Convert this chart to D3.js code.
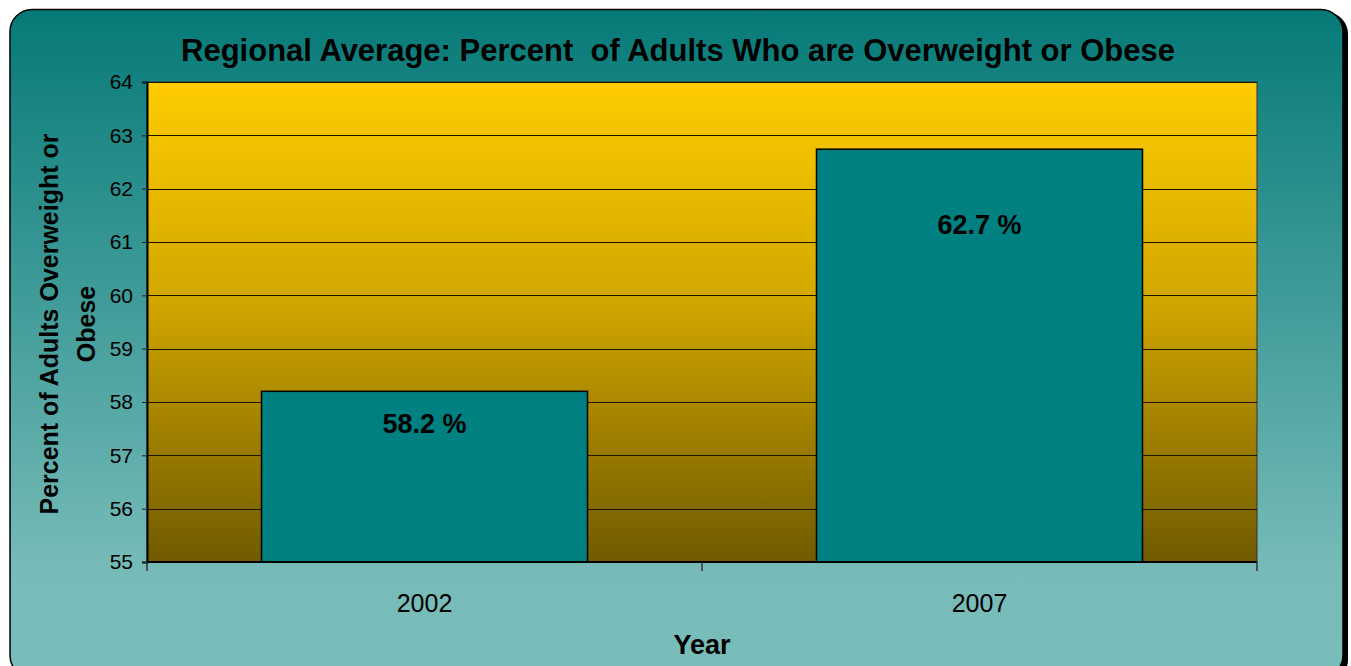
<!DOCTYPE html>
<html>
<head>
<meta charset="utf-8">
<script src="https://cdn.jsdelivr.net/npm/d3@7"></script>
<style>
  html, body { margin: 0; padding: 0; background: #fff; }
  text { font-family: "Liberation Sans", Arial, sans-serif; }
</style>
</head>
<body>
<div id="chart"></div>
<script>
const years = ["2002", "2007"];
const values = [58.2, 62.74];
const yTicks = [55, 56, 57, 58, 59, 60, 61, 62, 63, 64];

const width = 1351;
const height = 666;
const plotLeft = 147;
const plotRight = 1257;
const plotTop = 82;
const plotBottom = 562;
// label distance below each bar top, in px
const labelDy = [41.5, 84.5];

const svg = d3.select("#chart")
    .append("svg")
    .attr("width", width)
    .attr("height", height);

const defs = svg.append("defs");

const outerGrad = defs.append("linearGradient")
    .attr("id", "outerGrad")
    .attr("x1", 0).attr("y1", 0).attr("x2", 0).attr("y2", 1);
outerGrad.append("stop").attr("offset", 0).attr("stop-color", "#067a77");
outerGrad.append("stop").attr("offset", 0.85).attr("stop-color", "#78bcb9");
outerGrad.append("stop").attr("offset", 1).attr("stop-color", "#79bdba");

const plotGrad = defs.append("linearGradient")
    .attr("id", "plotGrad")
    .attr("x1", 0).attr("y1", 0).attr("x2", 0).attr("y2", 1);
plotGrad.append("stop").attr("offset", 0).attr("stop-color", "#ffcc00");
plotGrad.append("stop").attr("offset", 0.45).attr("stop-color", "#d2a700");
plotGrad.append("stop").attr("offset", 1).attr("stop-color", "#705a00");

// outer frame with shadow
svg.append("rect")
    .attr("x", 14).attr("y", 12)
    .attr("width", 1334).attr("height", 670)
    .attr("rx", 22)
    .attr("fill", "#000");

svg.append("rect")
    .attr("x", 10).attr("y", 9.5)
    .attr("width", 1333).attr("height", 668)
    .attr("rx", 22)
    .attr("fill", "url(#outerGrad)")
    .attr("stroke", "#000")
    .attr("stroke-width", 1.5);

const xScale = d3.scaleBand()
    .domain(years)
    .range([plotLeft, plotRight])
    .paddingInner(0.4126)
    .paddingOuter(0.2063);

const yScale = d3.scaleLinear()
    .domain([55, 64])
    .range([plotBottom, plotTop]);

// plot background
svg.append("rect")
    .attr("x", plotLeft).attr("y", plotTop)
    .attr("width", plotRight - plotLeft)
    .attr("height", plotBottom - plotTop)
    .attr("fill", "url(#plotGrad)")
    .attr("stroke", "#333")
    .attr("stroke-width", 1);

// gridlines
svg.append("g")
    .selectAll("line")
    .data(yTicks.slice(1))
    .join("line")
    .attr("x1", plotLeft).attr("x2", plotRight)
    .attr("y1", d => Math.round(yScale(d)) + 0.5)
    .attr("y2", d => Math.round(yScale(d)) + 0.5)
    .attr("stroke", "#1a1400")
    .attr("stroke-width", 1);

// y axis
const yAxis = svg.append("g")
    .attr("transform", `translate(${plotLeft},0)`)
    .call(d3.axisLeft(yScale).tickValues(yTicks).tickSize(5).tickPadding(9));
yAxis.select(".domain").attr("stroke", "#000").attr("stroke-width", 2);
yAxis.selectAll(".tick line").attr("stroke", "#222");
yAxis.selectAll(".tick text")
    .attr("font-size", 21)
    .attr("font-family", "Liberation Sans, Arial, sans-serif")
    .attr("fill", "#000");

// bars
svg.append("g")
    .selectAll("rect")
    .data(values)
    .join("rect")
    .attr("x", (d, i) => xScale(years[i]))
    .attr("y", d => yScale(d))
    .attr("width", xScale.bandwidth())
    .attr("height", d => plotBottom - yScale(d))
    .attr("fill", "#008080")
    .attr("stroke", "#000")
    .attr("stroke-width", 1.5);

// bar labels
svg.append("g")
    .selectAll("text")
    .data(values)
    .join("text")
    .attr("x", (d, i) => xScale(years[i]) + xScale.bandwidth() / 2)
    .attr("y", (d, i) => yScale(d) + labelDy[i])
    .attr("text-anchor", "middle")
    .attr("font-size", 27)
    .attr("font-weight", "bold")
    .text(d => d.toFixed(1) + " %");

// x axis line and category ticks
svg.append("line")
    .attr("x1", plotLeft).attr("x2", plotRight)
    .attr("y1", plotBottom).attr("y2", plotBottom)
    .attr("stroke", "#000").attr("stroke-width", 2);

const step = xScale.step();
const bounds = d3.range(years.length + 1).map(i => plotLeft + i * step);
svg.append("g")
    .selectAll("line")
    .data(bounds)
    .join("line")
    .attr("x1", d => d).attr("x2", d => d)
    .attr("y1", plotBottom).attr("y2", plotBottom + 9)
    .attr("stroke", "#333").attr("stroke-width", 1.5);

svg.append("g")
    .selectAll("text")
    .data(years)
    .join("text")
    .attr("x", d => xScale(d) + xScale.bandwidth() / 2)
    .attr("y", 612)
    .attr("text-anchor", "middle")
    .attr("font-size", 25)
    .text(d => d);

// titles
svg.append("text")
    .attr("x", 678).attr("y", 61)
    .attr("text-anchor", "middle")
    .attr("font-size", 31)
    .attr("font-weight", "bold")
    .style("white-space", "pre")
    .text("Regional Average: Percent  of Adults Who are Overweight or Obese");

svg.append("text")
    .attr("x", 702).attr("y", 654)
    .attr("text-anchor", "middle")
    .attr("font-size", 27)
    .attr("font-weight", "bold")
    .text("Year");

const yTitle = svg.append("text")
    .attr("transform", "translate(0,324) rotate(-90)")
    .attr("text-anchor", "middle")
    .attr("font-size", 25)
    .attr("font-weight", "bold");
yTitle.append("tspan").attr("x", 0).attr("y", 58).text("Percent of Adults Overweight or");
yTitle.append("tspan").attr("x", 0).attr("y", 95).text("Obese");
</script>
</body>
</html>
